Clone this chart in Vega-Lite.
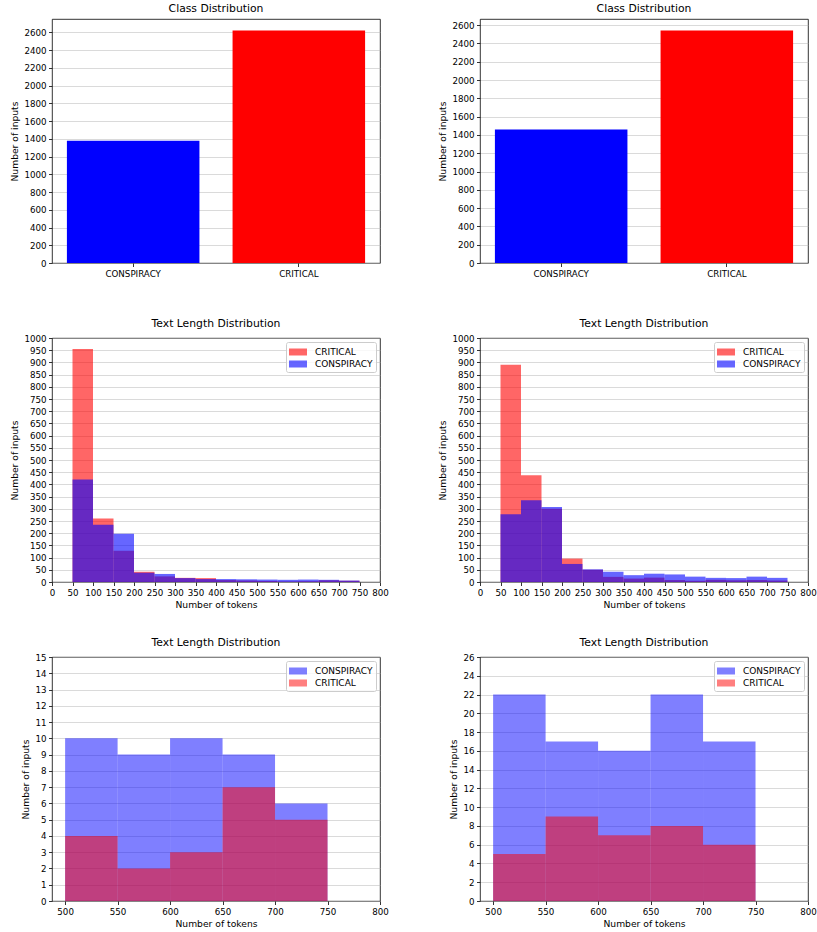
{
  "$schema": "https://vega.github.io/schema/vega-lite/v6.json",
  "background": "white",
  "padding": {"left": 10, "top": 2, "right": 5, "bottom": 5},
  "datasets": {
    "cls": [
      {"panel": "L", "label": "CONSPIRACY", "count": 1379},
      {"panel": "L", "label": "CRITICAL", "count": 2621},
      {"panel": "R", "label": "CONSPIRACY", "count": 1460},
      {"panel": "R", "label": "CRITICAL", "count": 2540}
    ],
    "hist": [
      {"panel": "ML", "cls": "CRITICAL", "start": 50, "end": 100, "count": 955},
      {"panel": "ML", "cls": "CRITICAL", "start": 100, "end": 150, "count": 260},
      {"panel": "ML", "cls": "CRITICAL", "start": 150, "end": 200, "count": 128},
      {"panel": "ML", "cls": "CRITICAL", "start": 200, "end": 250, "count": 42},
      {"panel": "ML", "cls": "CRITICAL", "start": 250, "end": 300, "count": 23},
      {"panel": "ML", "cls": "CRITICAL", "start": 300, "end": 350, "count": 17},
      {"panel": "ML", "cls": "CRITICAL", "start": 350, "end": 400, "count": 16},
      {"panel": "ML", "cls": "CRITICAL", "start": 400, "end": 450, "count": 8},
      {"panel": "ML", "cls": "CRITICAL", "start": 450, "end": 500, "count": 6},
      {"panel": "ML", "cls": "CRITICAL", "start": 500, "end": 550, "count": 4},
      {"panel": "ML", "cls": "CRITICAL", "start": 550, "end": 600, "count": 2},
      {"panel": "ML", "cls": "CRITICAL", "start": 600, "end": 650, "count": 3},
      {"panel": "ML", "cls": "CRITICAL", "start": 650, "end": 700, "count": 7},
      {"panel": "ML", "cls": "CRITICAL", "start": 700, "end": 750, "count": 5},
      {"panel": "ML", "cls": "CONSPIRACY", "start": 50, "end": 100, "count": 420},
      {"panel": "ML", "cls": "CONSPIRACY", "start": 100, "end": 150, "count": 235},
      {"panel": "ML", "cls": "CONSPIRACY", "start": 150, "end": 200, "count": 198},
      {"panel": "ML", "cls": "CONSPIRACY", "start": 200, "end": 250, "count": 38},
      {"panel": "ML", "cls": "CONSPIRACY", "start": 250, "end": 300, "count": 33},
      {"panel": "ML", "cls": "CONSPIRACY", "start": 300, "end": 350, "count": 16},
      {"panel": "ML", "cls": "CONSPIRACY", "start": 350, "end": 400, "count": 12},
      {"panel": "ML", "cls": "CONSPIRACY", "start": 400, "end": 450, "count": 12},
      {"panel": "ML", "cls": "CONSPIRACY", "start": 450, "end": 500, "count": 11},
      {"panel": "ML", "cls": "CONSPIRACY", "start": 500, "end": 550, "count": 10},
      {"panel": "ML", "cls": "CONSPIRACY", "start": 550, "end": 600, "count": 9},
      {"panel": "ML", "cls": "CONSPIRACY", "start": 600, "end": 650, "count": 10},
      {"panel": "ML", "cls": "CONSPIRACY", "start": 650, "end": 700, "count": 9},
      {"panel": "ML", "cls": "CONSPIRACY", "start": 700, "end": 750, "count": 6},
      {"panel": "MR", "cls": "CRITICAL", "start": 50, "end": 100, "count": 890},
      {"panel": "MR", "cls": "CRITICAL", "start": 100, "end": 150, "count": 437},
      {"panel": "MR", "cls": "CRITICAL", "start": 150, "end": 200, "count": 300},
      {"panel": "MR", "cls": "CRITICAL", "start": 200, "end": 250, "count": 96},
      {"panel": "MR", "cls": "CRITICAL", "start": 250, "end": 300, "count": 50},
      {"panel": "MR", "cls": "CRITICAL", "start": 300, "end": 350, "count": 21},
      {"panel": "MR", "cls": "CRITICAL", "start": 350, "end": 400, "count": 14},
      {"panel": "MR", "cls": "CRITICAL", "start": 400, "end": 450, "count": 18},
      {"panel": "MR", "cls": "CRITICAL", "start": 450, "end": 500, "count": 8},
      {"panel": "MR", "cls": "CRITICAL", "start": 500, "end": 550, "count": 5},
      {"panel": "MR", "cls": "CRITICAL", "start": 550, "end": 600, "count": 9},
      {"panel": "MR", "cls": "CRITICAL", "start": 600, "end": 650, "count": 7},
      {"panel": "MR", "cls": "CRITICAL", "start": 650, "end": 700, "count": 8},
      {"panel": "MR", "cls": "CRITICAL", "start": 700, "end": 750, "count": 6},
      {"panel": "MR", "cls": "CONSPIRACY", "start": 50, "end": 100, "count": 278},
      {"panel": "MR", "cls": "CONSPIRACY", "start": 100, "end": 150, "count": 335},
      {"panel": "MR", "cls": "CONSPIRACY", "start": 150, "end": 200, "count": 307},
      {"panel": "MR", "cls": "CONSPIRACY", "start": 200, "end": 250, "count": 74},
      {"panel": "MR", "cls": "CONSPIRACY", "start": 250, "end": 300, "count": 52},
      {"panel": "MR", "cls": "CONSPIRACY", "start": 300, "end": 350, "count": 42},
      {"panel": "MR", "cls": "CONSPIRACY", "start": 350, "end": 400, "count": 28},
      {"panel": "MR", "cls": "CONSPIRACY", "start": 400, "end": 450, "count": 34},
      {"panel": "MR", "cls": "CONSPIRACY", "start": 450, "end": 500, "count": 31},
      {"panel": "MR", "cls": "CONSPIRACY", "start": 500, "end": 550, "count": 22},
      {"panel": "MR", "cls": "CONSPIRACY", "start": 550, "end": 600, "count": 17},
      {"panel": "MR", "cls": "CONSPIRACY", "start": 600, "end": 650, "count": 16},
      {"panel": "MR", "cls": "CONSPIRACY", "start": 650, "end": 700, "count": 22},
      {"panel": "MR", "cls": "CONSPIRACY", "start": 700, "end": 750, "count": 17},
      {"panel": "BL", "cls": "CONSPIRACY", "start": 500, "end": 550, "count": 10},
      {"panel": "BL", "cls": "CONSPIRACY", "start": 550, "end": 600, "count": 9},
      {"panel": "BL", "cls": "CONSPIRACY", "start": 600, "end": 650, "count": 10},
      {"panel": "BL", "cls": "CONSPIRACY", "start": 650, "end": 700, "count": 9},
      {"panel": "BL", "cls": "CONSPIRACY", "start": 700, "end": 750, "count": 6},
      {"panel": "BL", "cls": "CRITICAL", "start": 500, "end": 550, "count": 4},
      {"panel": "BL", "cls": "CRITICAL", "start": 550, "end": 600, "count": 2},
      {"panel": "BL", "cls": "CRITICAL", "start": 600, "end": 650, "count": 3},
      {"panel": "BL", "cls": "CRITICAL", "start": 650, "end": 700, "count": 7},
      {"panel": "BL", "cls": "CRITICAL", "start": 700, "end": 750, "count": 5},
      {"panel": "BR", "cls": "CONSPIRACY", "start": 500, "end": 550, "count": 22},
      {"panel": "BR", "cls": "CONSPIRACY", "start": 550, "end": 600, "count": 17},
      {"panel": "BR", "cls": "CONSPIRACY", "start": 600, "end": 650, "count": 16},
      {"panel": "BR", "cls": "CONSPIRACY", "start": 650, "end": 700, "count": 22},
      {"panel": "BR", "cls": "CONSPIRACY", "start": 700, "end": 750, "count": 17},
      {"panel": "BR", "cls": "CRITICAL", "start": 500, "end": 550, "count": 5},
      {"panel": "BR", "cls": "CRITICAL", "start": 550, "end": 600, "count": 9},
      {"panel": "BR", "cls": "CRITICAL", "start": 600, "end": 650, "count": 7},
      {"panel": "BR", "cls": "CRITICAL", "start": 650, "end": 700, "count": 8},
      {"panel": "BR", "cls": "CRITICAL", "start": 700, "end": 750, "count": 6}
    ]
  },
  "columns": 2,
  "bounds": "flush",
  "spacing": {"row": 75, "column": 100},
  "resolve": {
    "scale": {"x": "independent", "y": "independent", "color": "independent"},
    "legend": {"color": "independent"},
    "axis": {"x": "independent", "y": "independent"}
  },
  "concat": [
    {
      "title": "Class Distribution",
      "width": 328, "height": 244,
      "data": {"name": "cls"},
      "transform": [{"filter": "datum.panel == 'L'"}],
      "mark": {"type": "bar"},
      "encoding": {
        "x": {"field": "label", "type": "nominal", "sort": null,
              "scale": {"paddingInner": 0.2, "paddingOuter": 0.09},
              "axis": {"title": null, "labelAngle": 0, "grid": false}},
        "y": {"field": "count", "type": "quantitative",
              "scale": {"domain": [0, 2752], "nice": false},
              "axis": {"title": "Number of inputs", "format": "d", "values": [0,200,400,600,800,1000,1200,1400,1600,1800,2000,2200,2400,2600]}},
        "color": {"field": "label", "type": "nominal",
                  "scale": {"domain": ["CONSPIRACY", "CRITICAL"], "range": ["#0000ff", "#ff0000"]},
                  "legend": null}
      }
    },
    {
      "title": "Class Distribution",
      "width": 328, "height": 244,
      "data": {"name": "cls"},
      "transform": [{"filter": "datum.panel == 'R'"}],
      "mark": {"type": "bar"},
      "encoding": {
        "x": {"field": "label", "type": "nominal", "sort": null,
              "scale": {"paddingInner": 0.2, "paddingOuter": 0.09},
              "axis": {"title": null, "labelAngle": 0, "grid": false}},
        "y": {"field": "count", "type": "quantitative",
              "scale": {"domain": [0, 2667], "nice": false},
              "axis": {"title": "Number of inputs", "format": "d", "values": [0,200,400,600,800,1000,1200,1400,1600,1800,2000,2200,2400,2600]}},
        "color": {"field": "label", "type": "nominal",
                  "scale": {"domain": ["CONSPIRACY", "CRITICAL"], "range": ["#0000ff", "#ff0000"]},
                  "legend": null}
      }
    },
    {
      "title": "Text Length Distribution",
      "width": 328, "height": 244,
      "data": {"name": "hist"},
      "transform": [{"filter": "datum.panel == 'ML'"}],
      "mark": {"type": "bar", "opacity": 0.6},
      "encoding": {
        "x": {"field": "start", "type": "quantitative",
              "scale": {"domain": [0, 800], "nice": false},
              "axis": {"title": "Number of tokens", "grid": false, "values": [0,50,100,150,200,250,300,350,400,450,500,550,600,650,700,750,800]}},
        "x2": {"field": "end"},
        "y": {"field": "count", "type": "quantitative", "stack": null,
              "scale": {"domain": [0, 1000], "nice": false},
              "axis": {"title": "Number of inputs", "format": "d", "values": [0,50,100,150,200,250,300,350,400,450,500,550,600,650,700,750,800,850,900,950,1000]}},
        "y2": {"datum": 0},
        "color": {"field": "cls", "type": "nominal",
                  "scale": {"domain": ["CRITICAL", "CONSPIRACY"], "range": ["#ff0000", "#0000ff"]},
                  "legend": {"title": null}}
      }
    },
    {
      "title": "Text Length Distribution",
      "width": 328, "height": 244,
      "data": {"name": "hist"},
      "transform": [{"filter": "datum.panel == 'MR'"}],
      "mark": {"type": "bar", "opacity": 0.6},
      "encoding": {
        "x": {"field": "start", "type": "quantitative",
              "scale": {"domain": [0, 800], "nice": false},
              "axis": {"title": "Number of tokens", "grid": false, "values": [0,50,100,150,200,250,300,350,400,450,500,550,600,650,700,750,800]}},
        "x2": {"field": "end"},
        "y": {"field": "count", "type": "quantitative", "stack": null,
              "scale": {"domain": [0, 1000], "nice": false},
              "axis": {"title": "Number of inputs", "format": "d", "values": [0,50,100,150,200,250,300,350,400,450,500,550,600,650,700,750,800,850,900,950,1000]}},
        "y2": {"datum": 0},
        "color": {"field": "cls", "type": "nominal",
                  "scale": {"domain": ["CRITICAL", "CONSPIRACY"], "range": ["#ff0000", "#0000ff"]},
                  "legend": {"title": null}}
      }
    },
    {
      "title": "Text Length Distribution",
      "width": 328, "height": 244,
      "data": {"name": "hist"},
      "transform": [{"filter": "datum.panel == 'BL'"}],
      "mark": {"type": "bar", "opacity": 0.5},
      "encoding": {
        "x": {"field": "start", "type": "quantitative",
              "scale": {"domain": [487.5, 800], "nice": false, "zero": false},
              "axis": {"title": "Number of tokens", "grid": false, "values": [500,550,600,650,700,750,800]}},
        "x2": {"field": "end"},
        "y": {"field": "count", "type": "quantitative", "stack": null,
              "scale": {"domain": [0, 15], "nice": false},
              "axis": {"title": "Number of inputs", "format": "d", "values": [0,1,2,3,4,5,6,7,8,9,10,11,12,13,14,15]}},
        "y2": {"datum": 0},
        "color": {"field": "cls", "type": "nominal",
                  "scale": {"domain": ["CONSPIRACY", "CRITICAL"], "range": ["#0000ff", "#ff0000"]},
                  "legend": {"title": null}}
      }
    },
    {
      "title": "Text Length Distribution",
      "width": 328, "height": 244,
      "data": {"name": "hist"},
      "transform": [{"filter": "datum.panel == 'BR'"}],
      "mark": {"type": "bar", "opacity": 0.5},
      "encoding": {
        "x": {"field": "start", "type": "quantitative",
              "scale": {"domain": [487.5, 800], "nice": false, "zero": false},
              "axis": {"title": "Number of tokens", "grid": false, "values": [500,550,600,650,700,750,800]}},
        "x2": {"field": "end"},
        "y": {"field": "count", "type": "quantitative", "stack": null,
              "scale": {"domain": [0, 26], "nice": false},
              "axis": {"title": "Number of inputs", "format": "d", "values": [0,2,4,6,8,10,12,14,16,18,20,22,24,26]}},
        "y2": {"datum": 0},
        "color": {"field": "cls", "type": "nominal",
                  "scale": {"domain": ["CONSPIRACY", "CRITICAL"], "range": ["#0000ff", "#ff0000"]},
                  "legend": {"title": null}}
      }
    }
  ],
  "config": {
    "font": "DejaVu Sans",
    "view": {"stroke": "#000000", "strokeWidth": 0.8},
    "title": {"fontSize": 10.8, "fontWeight": "normal", "color": "#000000", "offset": 5, "anchor": "middle"},
    "axis": {
      "domain": false,
      "tickColor": "#000000", "tickSize": 3.5, "tickWidth": 0.8,
      "labelColor": "#000000", "labelFontSize": 8.7, "labelPadding": 2.5,
      "labelOverlap": false, "labelFlush": false, "labelBound": false,
      "titleColor": "#000000", "titleFontSize": 9.2, "titleFontWeight": "normal", "titlePadding": 4,
      "gridColor": "#b0b0b0", "gridOpacity": 0.6, "gridWidth": 0.8
    },
    "axisX": {"grid": false},
    "legend": {
      "orient": "top-right", "offset": 4,
      "labelFontSize": 9, "labelColor": "#000000",
      "fillColor": "rgba(255,255,255,0.8)", "strokeColor": "#cccccc", "cornerRadius": 2,
      "padding": 3, "rowPadding": 0,
      "symbolType": "M-1,-0.5H1.571V0.5H-1Z", "symbolSize": 196, "symbolStrokeWidth": 0,
      "labelOffset": 12
    }
  }
}
